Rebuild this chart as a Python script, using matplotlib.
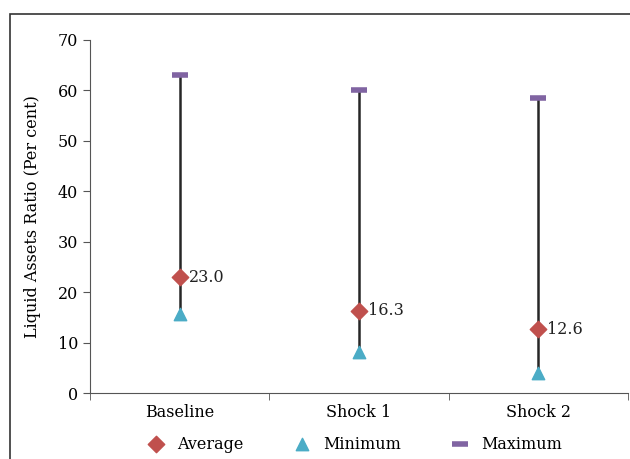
import numpy as np
import matplotlib.pyplot as plt
from matplotlib.patches import Rectangle

categories = ['Baseline', 'Shock 1', 'Shock 2']
avg_vals = [23.0, 16.3, 12.6]
min_vals = [15.6, 8.2, 3.9]
max_vals = [63.0, 60.0, 58.4]

plt.rcParams['font.family'] = ['DejaVu Serif']

fig = plt.figure(figsize=(6.3, 4.59), dpi=100)
ax = fig.add_axes([90 / 630, 1 - 393 / 459, 538 / 630, 353 / 459])

x = np.arange(len(categories))
ax.vlines(x, min_vals, max_vals, color='#262626', lw=1.8, zorder=1)
ax.scatter(x, max_vals, marker='_', s=130, lw=4, color='#8064a2', label='Maximum', zorder=3)
ax.scatter(x, min_vals, marker='^', s=80, color='#4bacc6', label='Minimum', zorder=3)
ax.scatter(x, avg_vals, marker='D', s=70, color='#c0504d', label='Average', zorder=3)
for xi, v in zip(x, avg_vals):
    ax.text(xi + 0.05, v, f'{v:.1f}', va='center', ha='left', fontsize=11.5, color='#222222')

ax.set_xlim(-0.5, 2.5)
ax.set_ylim(0, 70)
ax.set_yticks(range(0, 71, 10))
ax.set_xticks(x)
ax.set_xticklabels(categories)
ax.set_xticks([-0.5, 0.5, 1.5, 2.5], minor=True)
ax.tick_params(axis='x', which='major', length=0, pad=8)
ax.tick_params(axis='x', which='minor', length=5, color='#555555')
ax.tick_params(axis='y', length=5, color='#555555', labelsize=11.5)
ax.tick_params(axis='x', labelsize=11.5)
for s in ['top', 'right']:
    ax.spines[s].set_visible(False)
for s in ['left', 'bottom']:
    ax.spines[s].set_color('#555555')
ax.set_ylabel('Liquid Assets Ratio (Per cent)', fontsize=11.5, labelpad=12)

handles, labels = ax.get_legend_handles_labels()
order = [2, 1, 0]
ax.legend([handles[i] for i in order], [labels[i] for i in order], ncol=3,
          loc='center', bbox_to_anchor=(0.485, -0.145), frameon=False,
          fontsize=11.5, columnspacing=2.7, handletextpad=0.3)

# outer frame of the panel
fig.patches.append(Rectangle((10 / 630, -0.1), 1.2, 1 - 14 / 459 + 0.1,
                             transform=fig.transFigure, fill=False,
                             lw=1.2, edgecolor='#333333'))

fig.savefig('out.png', dpi=100)
